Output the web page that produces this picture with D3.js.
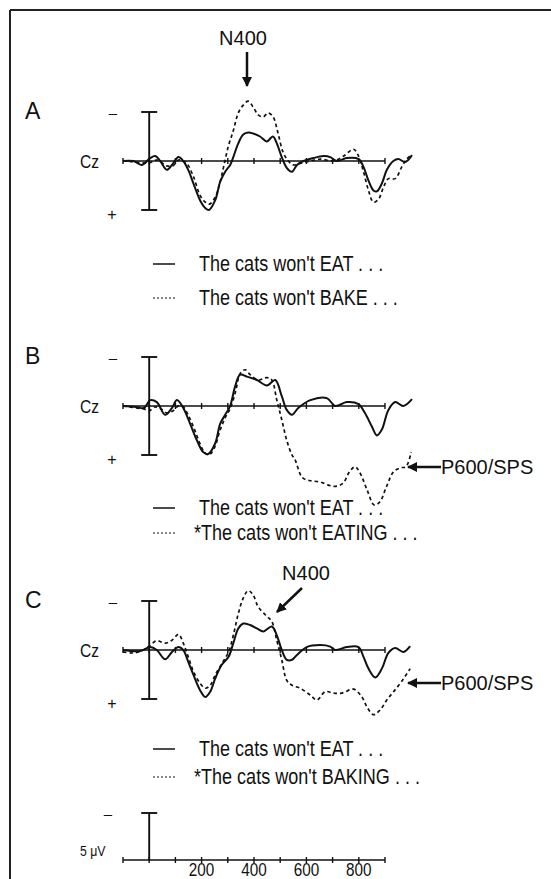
<!DOCTYPE html>
<html>
<head>
<meta charset="utf-8">
<script src="https://cdn.jsdelivr.net/npm/d3@7"></script>
<style>
  body { margin: 0; background: #fff; }
  text { font-family: "Liberation Sans", Arial, sans-serif; fill: #111; }
</style>
</head>
<body>
<div id="chart"></div>
<script>
// Canvas size
var width = 551;
var height = 879;

// Time axis (ms) and tick labels
var tickTimes = [-100, 0, 100, 200, 300, 400, 500, 600, 700, 800, 900];
var tickLabels = [200, 400, 600, 800];

// Waveforms: [time ms, amplitude uV] (positive plotted down)
var aEat = [[-100,0],[-61,0],[-28,0.4],[4,-0.3],[23,-0.5],[42,0],[67,0.9],[87,0.4],[112,-0.4],[130,0],[149,0.9],[169,2.3],[194,4],[214,4.8],[228,5.0],[252,4],[271,2.1],[290,1.1],[309,0.4],[321,-0.4],[340,-1.8],[359,-2.7],[378,-2.9],[397,-2.8],[423,-2.5],[449,-2.0],[472,-2.5],[487,-1.8],[506,-0.4],[525,0.7],[545,1.1],[564,0.4],[589,0],[627,-0.3],[665,-0.5],[691,-0.4],[716,0],[754,-0.3],[799,-0.2],[818,0.6],[837,2.0],[856,3.0],[869,3.1],[888,2.3],[907,0.9],[932,0],[951,-0.2],[977,0.1],[1003,-0.6]];
var aBake = [[-100,0],[-50,0.1],[0,0.2],[30,-0.1],[67,0.5],[90,0.5],[112,-0.1],[130,0],[144,0.25],[169,1.6],[194,3.5],[214,4.2],[230,4.4],[252,3.7],[271,2.1],[284,0.6],[302,-1.5],[321,-3.1],[340,-4.9],[359,-5.7],[378,-6.1],[397,-5.5],[416,-4.7],[435,-4.5],[454,-4.9],[473,-4.5],[492,-2.8],[511,-0.9],[531,0],[550,0.4],[576,0.25],[615,0],[653,-0.2],[703,0],[742,-0.5],[780,-1.2],[799,-0.5],[818,1.1],[837,3.0],[856,4.2],[875,3.9],[894,2.7],[913,1.8],[939,1.8],[964,0.6],[983,-0.2],[1003,-0.7]];

var bEat = [[-100,0],[-50,0.1],[-20,0.2],[4,-0.6],[29,-0.4],[61,0.9],[87,0.2],[106,-0.6],[130,0.2],[156,1.8],[182,3.5],[206,4.7],[225,4.9],[252,3.8],[271,1.8],[290,0.9],[309,0],[328,-2.0],[347,-3.2],[373,-3.0],[411,-2.65],[449,-2.1],[481,-2.65],[506,-1.0],[525,0.4],[545,0.9],[569,0.2],[615,-0.6],[678,-0.8],[710,0],[754,-0.4],[799,-0.2],[824,0.75],[850,2.1],[869,3.0],[888,2.4],[913,0.4],[939,-0.4],[970,0],[1003,-0.7]];
var bEating = [[-100,0],[-50,0.2],[-20,0.3],[0,0.5],[20,0.1],[40,0.2],[67,0.7],[90,0.5],[112,0],[130,0.1],[150,1.0],[170,2.2],[190,3.6],[210,4.7],[228,5.0],[250,4.2],[270,2.5],[290,1.2],[310,0.2],[330,-1.5],[347,-3.3],[366,-3.7],[385,-3.2],[416,-2.65],[449,-2.9],[468,-2.65],[487,-0.6],[506,1.4],[525,3.5],[545,5.0],[557,5.5],[584,7.3],[611,7.6],[652,7.75],[705,8.2],[739,7.9],[765,6.7],[786,6.2],[806,6.9],[832,8.6],[859,10.1],[880,9.8],[906,8.2],[933,6.7],[960,6.3],[980,6.2],[1000,4.7]];

var cEat = [[-100,0],[-34,0.1],[4,-0.3],[29,0],[61,0.95],[87,0.2],[112,-0.3],[130,0],[149,1.2],[169,2.55],[194,4.1],[214,4.8],[233,4.25],[252,2.9],[277,1.5],[303,0.7],[321,-0.7],[340,-2.2],[359,-2.7],[385,-2.55],[411,-2.2],[436,-1.9],[468,-2.4],[487,-1.5],[506,0],[525,1.0],[545,1.0],[564,0.5],[601,-0.3],[653,-0.5],[691,-0.35],[710,0],[754,-0.3],[799,-0.3],[818,0.7],[837,1.9],[863,2.8],[888,1.9],[913,0.3],[939,-0.2],[970,0.2],[996,-0.4]];
var cBaking = [[-100,0.2],[-61,0.3],[-22,0],[4,-0.5],[29,-0.95],[61,-0.7],[87,-1.0],[112,-1.6],[130,-0.7],[149,0.7],[169,2.2],[194,3.4],[214,3.9],[233,3.6],[252,2.55],[277,1.4],[303,0.2],[321,-1.5],[340,-3.7],[359,-5.3],[378,-6.05],[397,-5.6],[416,-4.4],[443,-3.6],[468,-2.9],[487,-1.0],[506,1.0],[525,3.1],[545,3.6],[576,3.9],[615,4.6],[640,5.1],[672,4.25],[703,4.4],[735,4.4],[780,4.0],[812,4.8],[831,5.8],[856,6.6],[882,6.1],[907,5.1],[933,4.25],[964,3.2],[996,1.9]];

// Panel layout
var panels = [
  { label: "A", base: 161, solid: aEat, dashed: aBake,
    legend: ["The cats won't EAT . . .", "The cats won't BAKE . . ."], legendY: [271, 305] },
  { label: "B", base: 406, solid: bEat, dashed: bEating,
    legend: ["The cats won't EAT . . .", "*The cats won't EATING . . ."], legendY: [515, 540] },
  { label: "C", base: 650, solid: cEat, dashed: cBaking,
    legend: ["The cats won't EAT . . .", "*The cats won't BAKING . . ."], legendY: [756, 784] }
];

var svg = d3.select("#chart").append("svg")
    .attr("width", width)
    .attr("height", height)
    .style("background", "#fff");

var defs = svg.append("defs");
defs.append("marker")
    .attr("id", "head")
    .attr("viewBox", "0 0 10 10")
    .attr("refX", 9).attr("refY", 5)
    .attr("markerWidth", 4).attr("markerHeight", 4)
    .attr("orient", "auto")
  .append("path")
    .attr("d", "M0,0 L10,5 L0,10 Z")
    .attr("fill", "#111");

// Frame (top and left edges only)
svg.append("line").attr("x1", 10).attr("x2", width).attr("y1", 10).attr("y2", 10)
    .attr("stroke", "#222").attr("stroke-width", 2);
svg.append("line").attr("x1", 10).attr("x2", 10).attr("y1", 10).attr("y2", height)
    .attr("stroke", "#222").attr("stroke-width", 2);

var x = d3.scaleLinear().domain([-100, 900]).range([123, 385]);

function narrowText(g, str, tx, ty, size, anchor) {
  return g.append("text")
    .attr("transform", "translate(" + tx + "," + ty + ") scale(0.82,1)")
    .attr("font-size", size)
    .attr("text-anchor", anchor || "start")
    .text(str);
}

// Baseline with ticks crossing it
function drawBaseline(g, yPos) {
  g.append("line").attr("x1", x(-100)).attr("x2", x(900)).attr("y1", yPos).attr("y2", yPos)
      .attr("stroke", "#111").attr("stroke-width", 1.7);
  g.selectAll(null).data(tickTimes).enter().append("line")
      .attr("x1", function(d) { return x(d); }).attr("x2", function(d) { return x(d); })
      .attr("y1", yPos - 3).attr("y2", yPos + 3)
      .attr("stroke", "#111").attr("stroke-width", 1.4);
}

panels.forEach(function(p) {
  var g = svg.append("g");
  var y = d3.scaleLinear().domain([-5, 5]).range([p.base - 49, p.base + 49]);

  g.append("text").attr("x", 25).attr("y", y(-5) + 7).attr("font-size", 23).text(p.label);
  g.append("text").attr("x", 113).attr("y", y(-5) + 6).attr("font-size", 15)
      .attr("text-anchor", "middle").text("\u2013");
  g.append("text").attr("x", 112).attr("y", y(5) + 10).attr("font-size", 16)
      .attr("text-anchor", "middle").text("+");
  narrowText(g, "Cz", 80, p.base + 7, 19);

  drawBaseline(g, p.base);

  // vertical amplitude bar with caps
  g.append("line").attr("x1", x(0)).attr("x2", x(0)).attr("y1", y(-5)).attr("y2", y(5))
      .attr("stroke", "#111").attr("stroke-width", 1.9);
  [-5, 5].forEach(function(v) {
    g.append("line").attr("x1", x(0) - 8).attr("x2", x(0) + 8).attr("y1", y(v)).attr("y2", y(v))
        .attr("stroke", "#111").attr("stroke-width", 1.9);
  });

  var line = d3.line()
      .x(function(d) { return x(d[0]); })
      .y(function(d) { return y(d[1]); })
      .curve(d3.curveCatmullRom.alpha(0.5));

  g.append("path").datum(p.dashed).attr("d", line)
      .attr("fill", "none").attr("stroke", "#111").attr("stroke-width", 1.7)
      .attr("stroke-dasharray", "3.5,3");
  g.append("path").datum(p.solid).attr("d", line)
      .attr("fill", "none").attr("stroke", "#111").attr("stroke-width", 2);

  // legend
  p.legend.forEach(function(str, i) {
    var ly = p.legendY[i];
    g.append("line").attr("x1", 153).attr("x2", 175).attr("y1", ly - 7).attr("y2", ly - 7)
        .attr("stroke", "#111").attr("stroke-width", i === 0 ? 1.5 : 1.2)
        .attr("stroke-dasharray", i === 0 ? null : "2,2");
    var tx = str.charAt(0) === "*" ? 194 : 199;
    narrowText(g, str, tx, ly, 22);
  });
});

// N400 label and arrow for panel A
svg.append("text").attr("x", 243).attr("y", 45).attr("font-size", 20)
    .attr("text-anchor", "middle").text("N400");
svg.append("line").attr("x1", 247).attr("y1", 52).attr("x2", 247).attr("y2", 86)
    .attr("stroke", "#111").attr("stroke-width", 2.5).attr("marker-end", "url(#head)");

// N400 label and arrow for panel C
svg.append("text").attr("x", 306).attr("y", 580).attr("font-size", 20)
    .attr("text-anchor", "middle").text("N400");
svg.append("line").attr("x1", 302).attr("y1", 588).attr("x2", 277).attr("y2", 612)
    .attr("stroke", "#111").attr("stroke-width", 2.5).attr("marker-end", "url(#head)");

// P600/SPS labels and arrows for B and C
[467, 683].forEach(function(py) {
  svg.append("line").attr("x1", 441).attr("y1", py).attr("x2", 408).attr("y2", py)
      .attr("stroke", "#111").attr("stroke-width", 2.5).attr("marker-end", "url(#head)");
  svg.append("text").attr("x", 441).attr("y", py + 7).attr("font-size", 20).text("P600/SPS");
});

// Calibration axis at the bottom
var calBase = 860;
var yCal = d3.scaleLinear().domain([-5, 0]).range([calBase - 47, calBase]);
var cal = svg.append("g");
drawBaseline(cal, calBase);
cal.append("line").attr("x1", x(0)).attr("x2", x(0)).attr("y1", yCal(-5)).attr("y2", yCal(0))
    .attr("stroke", "#111").attr("stroke-width", 1.9);
cal.append("line").attr("x1", x(0) - 8).attr("x2", x(0) + 8).attr("y1", yCal(-5)).attr("y2", yCal(-5))
    .attr("stroke", "#111").attr("stroke-width", 1.9);
cal.append("text").attr("x", 108).attr("y", yCal(-5) + 6).attr("font-size", 15)
    .attr("text-anchor", "middle").text("\u2013");
narrowText(cal, "5 \u03bcV", 80, 856, 15);
cal.selectAll(null).data(tickLabels).enter().append("text")
    .attr("transform", function(d) { return "translate(" + x(d) + ",876) scale(0.85,1)"; })
    .attr("font-size", 18)
    .attr("text-anchor", "middle")
    .text(function(d) { return d; });
</script>
</body>
</html>
